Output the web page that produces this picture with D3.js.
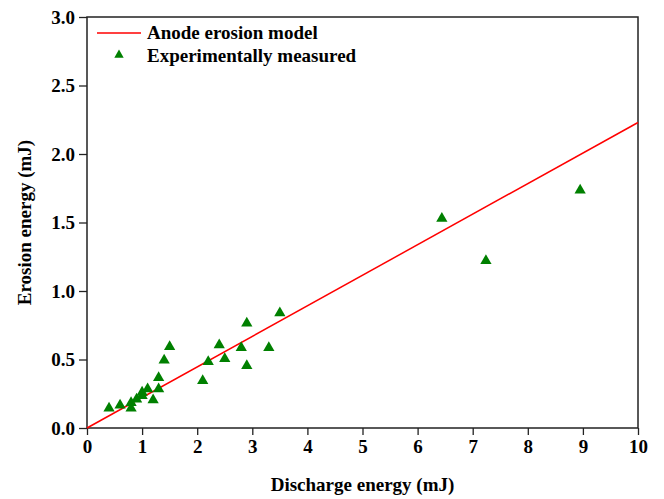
<!DOCTYPE html>
<html><head><meta charset="utf-8">
<script src="https://cdn.jsdelivr.net/npm/d3@7"></script>
<style>body{margin:0;background:#fff}svg{display:block}</style>
</head><body>
<svg id="c" width="664" height="499"></svg>
<script>
const measuredX = [0.4,0.6,0.8,0.8,0.9,1.0,1.0,1.1,1.2,1.3,1.3,1.4,1.5,2.1,2.2,2.4,2.5,2.8,2.9,2.9,3.3,3.5,6.44,7.24,8.95];
const measuredY = [0.145,0.166,0.145,0.185,0.21,0.235,0.26,0.285,0.205,0.285,0.367,0.494,0.593,0.345,0.484,0.606,0.506,0.586,0.455,0.765,0.586,0.84,1.53,1.22,1.735];
const modelX = [0,10];
const modelY = [0,2.23];
const xTicks = [0,1,2,3,4,5,6,7,8,9,10];
const yTicks = [0,0.5,1.0,1.5,2.0,2.5,3.0];

const svg = d3.select('#c');
const L=87,R=638,T=17,B=428;
const x = d3.scaleLinear().domain([0,10]).range([L,R]);
const y = d3.scaleLinear().domain([0,3]).range([B,T]);
const font = '"Liberation Serif","Times New Roman",serif';
const fs = 19;

const gx = svg.append('g').attr('transform',`translate(0,${B})`)
  .call(d3.axisBottom(x).tickValues(xTicks).tickFormat(d3.format('d')).tickSize(7).tickPadding(5));
const gy = svg.append('g').attr('transform',`translate(${L},0)`)
  .call(d3.axisLeft(y).tickValues(yTicks).tickFormat(d3.format('.1f')).tickSize(8).tickPadding(4));
[gx,gy].forEach(g=>{
  g.select('.domain').remove();
  g.selectAll('line').attr('stroke','#222').attr('stroke-width',1.3);
  g.selectAll('text').attr('font-family',font).attr('font-weight','bold').attr('font-size',fs).attr('fill','#000');
});
svg.append('rect').attr('x',L).attr('y',T).attr('width',R-L).attr('height',B-T)
  .attr('fill','none').attr('stroke','#222').attr('stroke-width',1.5);

const line = d3.line().x(d=>x(d[0])).y(d=>y(d[1]));
svg.append('path').datum(modelX.map((v,i)=>[v,modelY[i]])).attr('d',line)
  .attr('fill','none').attr('stroke','#ff0000').attr('stroke-width',1.5);

const tri = d3.symbol().type(d3.symbolTriangle).size(55);
svg.append('g').selectAll('path').data(measuredX.map((v,i)=>[v,measuredY[i]])).join('path')
  .attr('d',tri).attr('transform',d=>`translate(${x(d[0])},${y(d[1])})`)
  .attr('fill','#008000');

// legend
svg.append('line').attr('x1',97).attr('x2',141).attr('y1',33).attr('y2',33).attr('stroke','#ff0000').attr('stroke-width',1.5);
svg.append('path').attr('d',d3.symbol().type(d3.symbolTriangle).size(38)).attr('transform','translate(119,55)').attr('fill','#008000');
const lt = [['Anode erosion model',39],['Experimentally measured',62]];
lt.forEach(([t,yy])=>svg.append('text').attr('x',147).attr('y',yy).text(t)
  .attr('font-family',font).attr('font-weight','bold').attr('font-size',fs));

svg.append('text').attr('x',(L+R)/2).attr('y',491).attr('text-anchor','middle').text('Discharge energy (mJ)')
  .attr('font-family',font).attr('font-weight','bold').attr('font-size',fs);
svg.append('text').attr('transform',`translate(31,${(T+B)/2}) rotate(-90)`).attr('text-anchor','middle').text('Erosion energy (mJ)')
  .attr('font-family',font).attr('font-weight','bold').attr('font-size',fs);
</script>
</body></html>
